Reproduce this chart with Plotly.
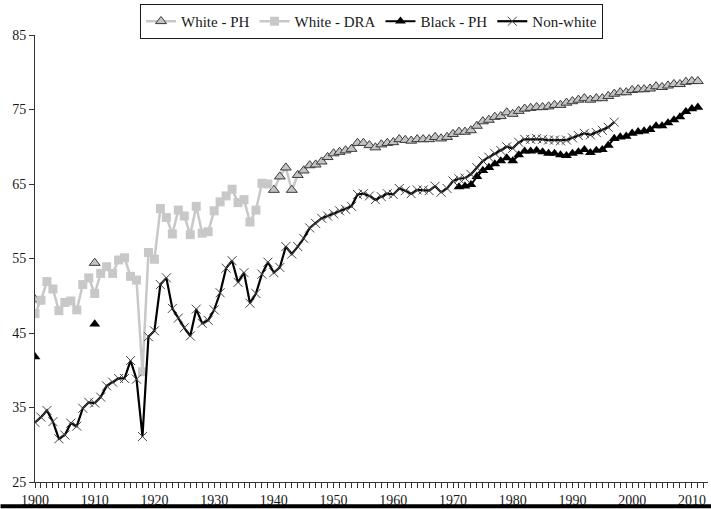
import plotly.graph_objects as go

# ---------------- data ----------------
years_nonwhite = list(range(1900, 1998))
nonwhite = [
    33.0, 33.7, 34.6, 33.1, 30.8, 31.3, 32.9, 32.5, 34.9, 35.7,
    35.6, 36.4, 37.9, 38.4, 38.9, 38.9, 41.3, 38.8, 31.1, 44.5,
    45.3, 51.5, 52.4, 48.3, 47.0, 45.7, 44.6, 48.2, 46.3, 46.7,
    48.1, 50.4, 53.7, 54.7, 51.8, 53.1, 49.0, 50.3, 52.9, 54.5,
    53.1, 53.8, 56.6, 55.6, 56.6, 57.7, 59.1, 59.7, 60.4, 60.7,
    61.0, 61.4, 61.6, 62.0, 63.6, 63.7, 63.4, 62.9, 63.3, 63.7,
    63.6, 64.4, 64.1, 63.7, 64.2, 64.2, 64.1, 64.7, 63.9, 64.4,
    65.4, 65.7, 65.8, 66.3, 67.2, 68.1, 68.6, 69.1, 69.5, 70.0,
    69.8, 70.6, 71.0, 71.0, 71.1, 71.0, 70.9, 70.9, 70.8, 70.9,
    71.2, 71.5, 71.8, 71.6, 71.9, 72.2, 72.6, 73.3,
]

years_dra = list(range(1900, 1940))
white_dra = [
    47.6, 49.4, 51.9, 50.9, 48.0, 49.1, 49.3, 48.1, 51.5, 52.4,
    50.3, 53.0, 53.9, 53.0, 54.8, 55.1, 52.6, 52.1, 39.8, 55.8,
    54.9, 61.7, 60.5, 58.3, 61.5, 60.7, 58.2, 62.0, 58.4, 58.6,
    61.4, 62.6, 63.4, 64.3, 62.5, 62.9, 59.9, 61.5, 65.1, 65.0,
]

years_white_ph = [1900, 1910] + list(range(1940, 2012))
white_ph = [49.5, 54.4,
    64.2, 66.0, 67.2, 64.2, 66.2, 66.8, 67.5, 67.6, 68.0, 68.6,
    69.1, 69.3, 69.5, 69.7, 70.5, 70.5, 70.2, 69.9, 70.3, 70.5,
    70.6, 71.0, 70.9, 70.8, 71.0, 71.0, 71.0, 71.3, 71.1, 71.3,
    71.7, 72.0, 72.0, 72.2, 72.8, 73.4, 73.6, 74.0, 74.1, 74.6,
    74.4, 74.8, 75.1, 75.2, 75.3, 75.3, 75.4, 75.6, 75.6, 75.9,
    76.1, 76.3, 76.5, 76.3, 76.5, 76.5, 76.8, 77.1, 77.3, 77.3,
    77.6, 77.7, 77.7, 77.8, 78.1, 78.0, 78.2, 78.4, 78.4, 78.7,
    78.8, 78.8,
]

years_black_ph = [1900, 1910] + list(range(1971, 2012))
black_ph = [41.8, 46.2,
    64.6, 64.7, 64.9, 66.0, 66.8, 67.2, 67.7, 68.1, 68.5,
    68.1, 68.9, 69.4, 69.4, 69.5, 69.3, 69.1, 69.1, 68.9, 68.8,
    69.1, 69.3, 69.6, 69.2, 69.5, 69.6, 70.2, 71.1, 71.3, 71.4,
    71.8, 72.0, 72.1, 72.3, 72.8, 72.8, 73.2, 73.6, 74.0, 74.7,
    75.1, 75.3,
]

x_ticks = list(range(1900, 2011, 10))
y_ticks = [25, 35, 45, 55, 65, 75, 85]


def with_gaps(xs, ys):
    """Insert None where consecutive years are not adjacent (no connecting line)."""
    ox, oy = [], []
    for i, (x, y) in enumerate(zip(xs, ys)):
        if i > 0 and x - xs[i - 1] > 1:
            ox.append(None)
            oy.append(None)
        ox.append(x)
        oy.append(y)
    return ox, oy


LIGHT = "#c8c8c8"
FONT = "Liberation Serif"
TXT = "#1a1a1a"

fig = go.Figure()

wx, wy = with_gaps(years_white_ph, white_ph)
fig.add_trace(go.Scatter(
    x=wx, y=wy, name="White - PH", mode="lines+markers",
    line=dict(color=LIGHT, width=2.5),
    marker=dict(symbol="triangle-up", size=9.5, color="#c4c4c4",
                line=dict(color="#3a3a3a", width=1)),
))

fig.add_trace(go.Scatter(
    x=years_dra, y=white_dra, name="White - DRA", mode="lines+markers",
    line=dict(color=LIGHT, width=2.5),
    marker=dict(symbol="square", size=9, color=LIGHT),
))

bx, by = with_gaps(years_black_ph, black_ph)
fig.add_trace(go.Scatter(
    x=bx, y=by, name="Black - PH", mode="lines+markers",
    line=dict(color="black", width=2),
    marker=dict(symbol="triangle-up", size=9.5, color="black",
                line=dict(color="black", width=0)),
))

fig.add_trace(go.Scatter(
    x=years_nonwhite, y=nonwhite, name="Non-white", mode="lines+markers",
    line=dict(color="black", width=2.2),
    marker=dict(symbol="x-thin", size=9, color="#444444",
                line=dict(color="#444444", width=1)),
))

L, R, T, B = 34.5, 3, 35, 27.3
plot_w = 711 - L - R
plot_h = 509 - T - B

fig.update_layout(
    width=711, height=509,
    margin=dict(l=L, r=R, t=T, b=B, pad=0, autoexpand=False),
    paper_bgcolor="white", plot_bgcolor="white",
    font=dict(family=FONT, size=14, color=TXT),
    showlegend=True,
    legend=dict(
        orientation="h", x=0.5, xanchor="center",
        y=1 + (T - 4) / plot_h, yanchor="top",
        bordercolor=TXT, borderwidth=1, bgcolor="white",
        font=dict(family=FONT, size=15, color=TXT),
        itemwidth=30, traceorder="normal",
    ),
    xaxis=dict(
        range=[1900, 2012.7], tickvals=x_ticks, ticktext=[str(v) for v in x_ticks],
        ticks="outside", ticklen=5, tickcolor="#333333", tickwidth=1,
        minor=dict(dtick=1, tick0=1900, ticks="outside", ticklen=5,
                   tickcolor="#333333", tickwidth=1),
        showline=True, linecolor="#333333", linewidth=1,
        showgrid=False, zeroline=False, automargin=False,
        tickfont=dict(family=FONT, size=14, color=TXT),
    ),
    yaxis=dict(
        range=[25, 85], tickvals=y_ticks,
        ticks="outside", ticklen=5, tickcolor="#333333", tickwidth=1,
        showline=True, linecolor="#333333", linewidth=1,
        showgrid=False, zeroline=False, automargin=False,
        tickfont=dict(family=FONT, size=14, color=TXT),
    ),
)

yb = -(506 - (509 - B)) / plot_h
fig.add_shape(
    type="line", xref="paper", yref="paper",
    x0=-L / plot_w, x1=1 + R / plot_w, y0=yb, y1=yb,
    line=dict(color="black", width=4),
)

fig.write_html(
    "out.html",
    config={"displayModeBar": False},
    post_script="document.body.style.margin='0';document.body.style.overflow='hidden';",
)
